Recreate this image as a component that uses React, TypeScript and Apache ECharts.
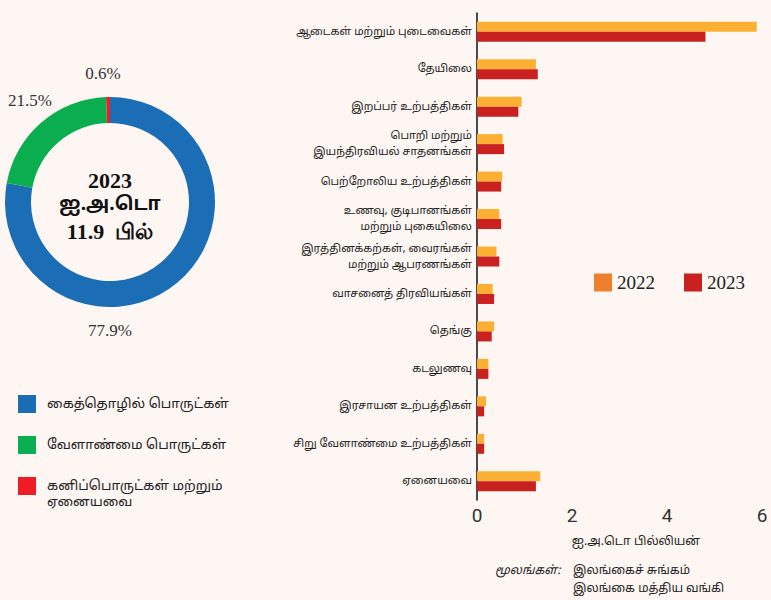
import React, { useEffect, useRef } from "react";
import * as echarts from "echarts";

const categories = [
  "ஆடைகள் மற்றும் புடைவைகள்",
  "தேயிலை",
  "இறப்பர் உற்பத்திகள்",
  "பொறி மற்றும்\nஇயந்திரவியல் சாதனங்கள்",
  "பெற்றோலிய உற்பத்திகள்",
  "உணவு, குடிபானங்கள்\nமற்றும் புகையிலை",
  "இரத்தினக்கற்கள், வைரங்கள்\nமற்றும் ஆபரணங்கள்",
  "வாசனைத் திரவியங்கள்",
  "தெங்கு",
  "கடலுணவு",
  "இரசாயன உற்பத்திகள்",
  "சிறு வேளாண்மை உற்பத்திகள்",
  "ஏனையவை",
];
const values2022 = [5.89, 1.24, 0.94, 0.54, 0.53, 0.47, 0.41, 0.33, 0.36, 0.24, 0.19, 0.15, 1.33];
const values2023 = [4.81, 1.28, 0.87, 0.57, 0.51, 0.51, 0.47, 0.36, 0.31, 0.24, 0.15, 0.15, 1.24];
const seriesNames = ["2022", "2023"];
const xMin = 0;
const xMax = 6;
const xInterval = 2;

const pieNames = [
  "கைத்தொழில் பொருட்கள்",
  "வேளாண்மை பொருட்கள்",
  "கனிப்பொருட்கள் மற்றும்\nஏனையவை",
];
const pieValues = [77.9, 21.5, 0.6];
const centerLines = ["2023", "ஐ.அ.டொ", "11.9  பில்"];
const axisTitle = "ஐ.அ.டொ பில்லியன்";
const sourceLabel = "மூலங்கள்:";
const sourceLines = ["இலங்கைச் சுங்கம்", "இலங்கை மத்திய வங்கி"];

const TAMIL = '"Noto Sans Tamil", "Noto Sans", sans-serif';
const SERIF = '"Liberation Serif", "Times New Roman", serif';

const barColors = ["#FBB034", "#C9211F"];
const legend2022Color = "#EE7F2D";
const pieColors = ["#1B6DB5", "#0BAE4F", "#E8202A"];
const pieLegendColors = ["#1A6CB5", "#0BAE4F", "#EE1C25"];

export default function App() {
  const ref = useRef<HTMLDivElement>(null);
  useEffect(() => {
    if (!ref.current) return;
    const chart = echarts.init(ref.current, undefined, { renderer: "svg" });

    const pctPos = [
      [110, 330],
      [30, 100],
      [103, 73],
    ];
    const graphics: any[] = [];
    pieValues.forEach((v, i) => {
      graphics.push({
        type: "text",
        style: {
          text: v.toFixed(1) + "%",
          x: pctPos[i][0],
          y: pctPos[i][1],
          align: "center",
          verticalAlign: "middle",
          fontFamily: SERIF,
          fontSize: 17,
          fill: "#333",
        },
      });
    });
    const centerY = [180, 205, 231];
    centerLines.forEach((t, i) => {
      graphics.push({
        type: "text",
        style: {
          text: t,
          x: 110,
          y: centerY[i],
          align: "center",
          verticalAlign: "middle",
          fontFamily: i === 1 ? TAMIL : SERIF,
          fontWeight: "bold",
          fontSize: i === 1 ? 19 : 22,
          fill: "#111",
        },
      });
    });
    const legTop = [395, 436, 477];
    pieNames.forEach((n, i) => {
      graphics.push({
        type: "rect",
        shape: { x: 18, y: legTop[i], width: 18, height: 18 },
        style: { fill: pieLegendColors[i] },
      });
      graphics.push({
        type: "text",
        style: {
          text: n,
          x: 47,
          y: i === 2 ? legTop[i] + 1 : legTop[i] + 9,
          verticalAlign: i === 2 ? "top" : "middle",
          fontFamily: TAMIL,
          fontSize: 13.5,
          lineHeight: 16,
          fill: "#222",
        },
      });
    });

    graphics.push({
      type: "text",
      style: {
        text: axisTitle,
        x: 636,
        y: 542,
        align: "center",
        verticalAlign: "middle",
        fontFamily: TAMIL,
        fontSize: 12,
        fill: "#222",
      },
    });
    graphics.push({
      type: "text",
      style: {
        text: sourceLabel,
        x: 495,
        y: 571,
        verticalAlign: "middle",
        fontFamily: TAMIL,
        fontStyle: "italic",
        fontSize: 12,
        fill: "#222",
      },
    });
    sourceLines.forEach((t, i) => {
      graphics.push({
        type: "text",
        style: {
          text: t,
          x: 573,
          y: 571 + i * 18,
          verticalAlign: "middle",
          fontFamily: TAMIL,
          fontSize: 12,
          fill: "#222",
        },
      });
    });

    chart.setOption({
      animation: false,
      backgroundColor: "#FDF6F3",
      legend: {
        data: [
          { name: seriesNames[0], itemStyle: { color: legend2022Color } },
          { name: seriesNames[1] },
        ],
        left: 589,
        top: 268,
        icon: "rect",
        itemWidth: 18,
        itemHeight: 18,
        itemGap: 29,
        textStyle: { fontFamily: SERIF, fontSize: 19, color: "#222" },
      },
      grid: { left: 477, right: 9, top: 13, bottom: 100, containLabel: false },
      xAxis: {
        type: "value",
        min: xMin,
        max: xMax,
        interval: xInterval,
        axisLine: { show: false },
        axisTick: { show: false },
        splitLine: { show: false },
        axisLabel: { fontSize: 19, color: "#333", margin: 6, fontFamily: "Roboto, sans-serif" },
      },
      yAxis: {
        type: "category",
        data: categories,
        inverse: true,
        axisLine: { show: true, lineStyle: { color: "#111", width: 1.5 } },
        axisTick: { show: false },
        axisLabel: {
          fontFamily: TAMIL,
          fontSize: 11,
          lineHeight: 16,
          color: "#222",
          margin: 5,
          align: "right",
        },
      },
      series: [
        {
          name: seriesNames[0],
          type: "bar",
          data: values2022,
          barWidth: 10,
          barGap: "0%",
          itemStyle: { color: barColors[0] },
        },
        {
          name: seriesNames[1],
          type: "bar",
          data: values2023,
          barWidth: 10,
          barGap: "0%",
          itemStyle: { color: barColors[1] },
        },
        {
          type: "pie",
          center: [110, 202],
          radius: [79, 105],
          startAngle: 90,
          clockwise: true,
          silent: true,
          label: { show: false },
          labelLine: { show: false },
          data: pieNames.map((n, i) => ({
            name: n,
            value: pieValues[i],
            itemStyle: { color: pieColors[i] },
          })),
        },
      ],
      graphic: graphics,
    });
    return () => chart.dispose();
  }, []);
  return (
    <div
      ref={ref}
      style={{ position: "fixed", left: 0, top: 0, width: 771, height: 600 }}
    />
  );
}
